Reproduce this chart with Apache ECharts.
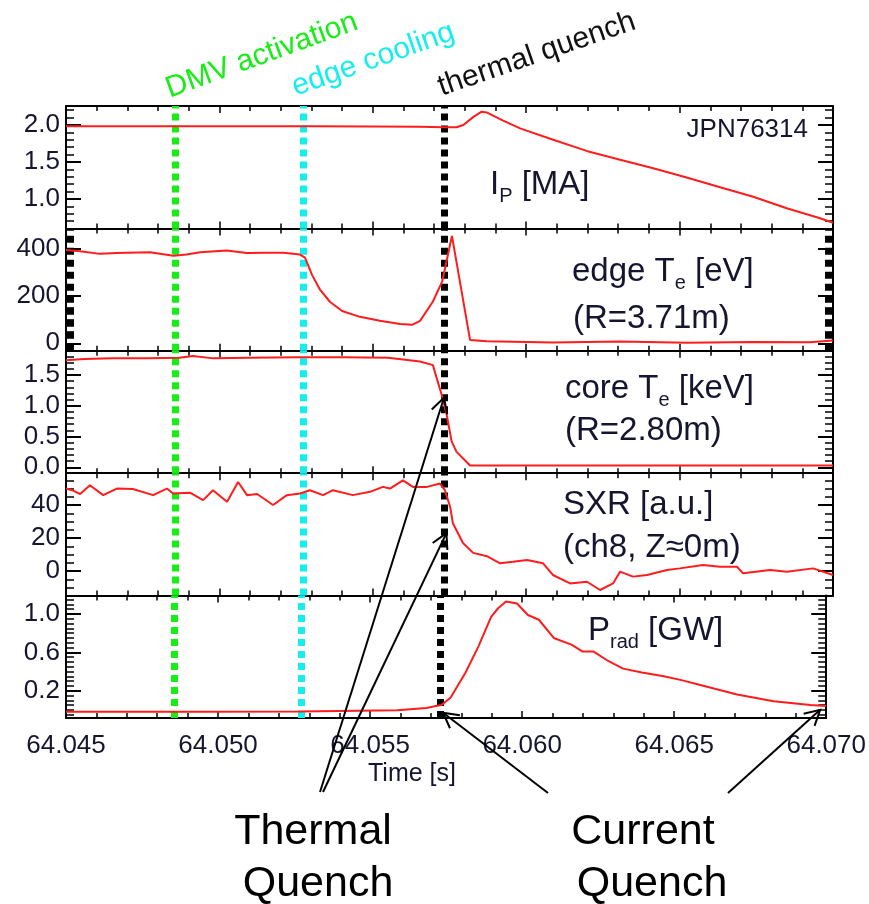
<!DOCTYPE html>
<html><head><meta charset="utf-8">
<script src="https://cdn.jsdelivr.net/npm/echarts@6/dist/echarts.min.js"></script>
<style>html,body{margin:0;padding:0;background:#fff}#c{width:869px;height:904px}</style>
</head><body><div id="c"></div>
<script>
// ---------------- data ----------------
const ipTime = [64.0450,64.0470,64.0490,64.0510,64.0530,64.0550,64.05654,64.05730,64.05773,64.05795,64.05828,64.05855,64.05871,64.05925,64.05980,64.06088,64.06197,64.06306,64.06414,64.06523,64.06632,64.06740,64.06849,64.06958,64.07000];
const ipVal  = [1.985,1.985,1.985,1.985,1.985,1.98,1.975,1.97,1.97,2.0,2.11,2.18,2.17,2.06,1.955,1.80,1.65,1.53,1.415,1.29,1.16,1.03,0.875,0.74,0.68];

const edgeTime = [64.04500,64.04546,64.04611,64.04665,64.04774,64.04850,64.04893,64.04937,64.05024,64.05089,64.05154,64.05208,64.05263,64.05279,64.05302,64.05328,64.05360,64.05400,64.05458,64.05523,64.05589,64.05628,64.05654,64.05696,64.05726,64.05758,64.05817,64.05872,64.06087,64.06306,64.06524,64.06739,64.06925,64.07000];
const edgeVal  = [395,390,379,383,386,371,376,386,393,383,384,384,376,363,290,227,176,137,112,95,82,78,95,177,261,455,14,8,3,7,2,5,4,12];

const coreTime = [64.04500,64.04560,64.04650,64.04770,64.04870,64.04914,64.04980,64.05100,64.05250,64.05400,64.05550,64.05654,64.05696,64.05710,64.05725,64.05741,64.05757,64.05773,64.05817,64.06000,64.06500,64.07000];
const coreVal  = [1.74,1.76,1.77,1.77,1.78,1.81,1.77,1.78,1.79,1.79,1.78,1.72,1.66,1.42,1.17,0.85,0.42,0.25,0.03,0.03,0.03,0.03];

const sxrTime = [64.04500,64.04520,64.04546,64.04578,64.04621,64.04666,64.04718,64.04784,64.04829,64.04849,64.04904,64.04947,64.04979,64.05025,64.05061,64.05090,64.05123,64.05175,64.05220,64.05263,64.05295,64.05338,64.05370,64.05435,64.05491,64.05533,64.05556,64.05598,64.05631,64.05677,64.05719,64.05735,64.05752,64.05761,64.05794,64.05827,64.05872,64.05915,64.05957,64.06003,64.06055,64.06087,64.06143,64.06198,64.06241,64.06283,64.06306,64.06348,64.06394,64.06459,64.06501,64.06576,64.06632,64.06687,64.06707,64.06795,64.06850,64.06935,64.07000];
const sxrVal  = [50,49,46.7,52,46,50,49.7,46,50,47,47.5,43,49,42,54,46,46.7,40,46,47,49,46,49,46,48,51,50,55,51,51,53,49,39,29,17,11,9,4.7,5.6,6.7,4.7,-2.4,-7.5,-6.5,-11.5,-7.5,-0.4,-3.4,-2.4,0.6,1.6,3.6,2.6,2.6,-1.4,0.6,-0.4,1.6,-2.4];

const pradTime = [64.04500,64.04937,64.05263,64.05589,64.05686,64.05716,64.05735,64.05765,64.05814,64.05856,64.05898,64.05921,64.05947,64.05983,64.06019,64.06055,64.06104,64.06162,64.06198,64.06234,64.06283,64.06332,64.06394,64.06466,64.06524,64.06586,64.06707,64.06827,64.06948,64.07000];
const pradVal  = [-0.02,-0.02,-0.018,-0.005,0.02,0.04,0.05,0.13,0.39,0.66,0.97,1.06,1.13,1.11,0.99,0.94,0.75,0.68,0.61,0.61,0.51,0.43,0.39,0.35,0.31,0.26,0.16,0.09,0.05,0.04];

// event markers (time, s)
const markerTimes = [64.04857, 64.05273, 64.05732];
const markerNames = ['DMV activation', 'edge cooling', 'thermal quench'];
const edgeBlockTimes = [64.04515, 64.06984];

// axis tick labels
const xRange = [64.045, 64.070];
const ipTicks = [1.0, 1.5, 2.0];
const edgeTicks = [0, 200, 400];
const coreTicks = [0.0, 0.5, 1.0, 1.5];
const sxrTicks = [0, 20, 40];
const pradTicks = [0.2, 0.6, 1.0];

// ---------------- layout / style ----------------
const RED = '#ff1c1c', GREEN = '#16ee16', CYAN = '#16eeee', BLACK = '#000';
const markerColors = [GREEN, CYAN, BLACK];
const FONT = '"Liberation Sans", Arial, sans-serif';
const left = 66, width = 767, gridH = 122.4;
const tops = [106, 228.4, 350.8, 473.2, 595.6];

function steps(a, b, s) { const r = []; for (let k = 0; a + k * s <= b + 1e-9; k++) r.push(+(a + k * s).toFixed(6)); return r; }

const panels = [
  { time: ipTime, val: ipVal, min: 0.603, max: 2.257, major: ipTicks, minor: steps(0.7, 2.2, 0.1), fmt: v => v.toFixed(1) },
  { time: edgeTime, val: edgeVal, min: -32, max: 487, major: edgeTicks, minor: steps(0, 450, 50), fmt: v => String(Math.round(v)) },
  { time: coreTime, val: coreVal, min: -0.096, max: 1.893, major: coreTicks, minor: steps(0, 1.8, 0.1), fmt: v => v.toFixed(1) },
  { time: sxrTime, val: sxrVal, min: -14.9, max: 59.3, major: sxrTicks, minor: steps(-10, 55, 5), fmt: v => String(Math.round(v)) },
  { time: pradTime, val: pradVal, min: -0.085, max: 1.192, major: pradTicks, minor: steps(-0.05, 1.15, 0.05), fmt: v => v.toFixed(1) }
];

const grids = [], xAxes = [], yAxes = [], series = [];
panels.forEach((p, i) => {
  grids.push({ left: left, width: width, top: tops[i], height: gridH, containLabel: false });
  const xBase = {
    gridIndex: i, type: 'value', min: xRange[0], max: xRange[1], interval: 0.005,
    axisLine: { show: true, onZero: false, lineStyle: { color: BLACK, width: 2 } },
    axisTick: { show: true, inside: true, length: 7, lineStyle: { color: BLACK, width: 1.5 } },
    minorTick: { show: true, splitNumber: 5, length: 5, lineStyle: { color: BLACK, width: 1.5 } },
    splitLine: { show: false }, minorSplitLine: { show: false }
  };
  xAxes.push(Object.assign({}, xBase, {
    position: 'bottom',
    axisLabel: { show: i === 4, formatter: v => v.toFixed(3), fontSize: 26, fontFamily: FONT, color: '#151530', margin: 15,
                 showMinLabel: true, showMaxLabel: true }
  }));
  xAxes.push(Object.assign({}, xBase, { position: 'top', axisLabel: { show: false } }));
  const yBase = { gridIndex: i, type: 'value', min: p.min, max: p.max, splitLine: { show: false } };
  const minorVals = p.minor.filter(v => !p.major.some(m => Math.abs(m - v) < 1e-9));
  yAxes.push(Object.assign({}, yBase, {
    position: 'left',
    axisLine: { show: true, onZero: false, lineStyle: { color: BLACK, width: 2 } },
    axisTick: { show: true, inside: true, length: 15, customValues: p.major, lineStyle: { color: BLACK, width: 2 } },
    axisLabel: { show: true, customValues: p.major, formatter: p.fmt, fontSize: 26, fontFamily: FONT, color: '#151530', margin: 6 }
  }));
  yAxes.push(Object.assign({}, yBase, {
    position: 'left', axisLine: { show: false },
    axisTick: { show: true, inside: true, length: 8, customValues: minorVals, lineStyle: { color: BLACK, width: 1.5 } },
    axisLabel: { show: false }
  }));
  yAxes.push(Object.assign({}, yBase, {
    position: 'right',
    axisLine: { show: true, onZero: false, lineStyle: { color: BLACK, width: 2 } },
    axisTick: { show: true, inside: true, length: 15, customValues: p.major, lineStyle: { color: BLACK, width: 2 } },
    axisLabel: { show: false }
  }));
  yAxes.push(Object.assign({}, yBase, {
    position: 'right', axisLine: { show: false },
    axisTick: { show: true, inside: true, length: 8, customValues: minorVals, lineStyle: { color: BLACK, width: 1.5 } },
    axisLabel: { show: false }
  }));

  const mlData = markerTimes.map((t, k) => ({ xAxis: t, lineStyle: { color: markerColors[k] } }));
  if (i === 1) edgeBlockTimes.forEach(t => mlData.push({ xAxis: t, lineStyle: { color: BLACK } }));
  series.push({
    type: 'line', xAxisIndex: 2 * i, yAxisIndex: 4 * i,
    data: p.time.map((t, k) => [t, p.val[k]]),
    showSymbol: false, symbol: 'none', z: 3,
    lineStyle: { color: RED, width: 2 },
    markLine: {
      silent: true, precision: 8, symbol: ['none', 'none'], label: { show: false }, z: 2,
      lineStyle: { type: [7, 5], width: 7, cap: 'butt' },
      data: mlData
    }
  });
});

const chart = echarts.init(document.getElementById('c'), null, { renderer: 'canvas' });
chart.setOption({
  animation: false, backgroundColor: '#fff',
  grid: grids, xAxis: xAxes, yAxis: yAxes, series: series
});

// ---------------- annotations ----------------
const ctx = document.createElement('canvas').getContext('2d');
function tw(text, size) { ctx.font = size + 'px ' + FONT; return ctx.measureText(text).width; }
const LBL = '#151530';
const g = [];
function txt(x, y, text, size, opt) {
  opt = opt || {};
  g.push({ type: 'text', x: x, y: y, rotation: opt.rot || 0, z: 100,
    style: { text: text, fontSize: size, fontFamily: FONT, fill: opt.fill || LBL,
             align: opt.align || 'left', verticalAlign: 'middle' } });
}
function parts(x, y, list) {
  let cx = x;
  list.forEach(p => { txt(cx, y + (p[2] || 0), p[0], p[1]); cx += tw(p[0], p[1]); });
}
const PS = 33, SS = 20;
txt(808, 130, 'JPN76314', 26, { align: 'right' });
parts(490, 185, [['I', PS], ['P', SS, 11], [' [MA]', PS]]);
parts(572, 272, [['edge T', PS], ['e', SS, 11], [' [eV]', PS]]);
parts(573, 319, [['(R=3.71m)', PS]]);
parts(565, 389, [['core T', PS], ['e', SS, 11], [' [keV]', PS]]);
parts(565, 431, [['(R=2.80m)', PS]]);
parts(563, 505, [['SXR [a.u.]', PS]]);
parts(563, 548, [['(ch8, Z\u22480m)', PS]]);
parts(588, 631, [['P', PS], ['rad', SS, 11], [' [GW]', PS]]);

const rotDeg = [20, 19.5, 19];
const rotAnchor = [[167, 90], [293, 88], [439, 88]];
markerNames.forEach((n, k) => {
  txt(rotAnchor[k][0], rotAnchor[k][1], n, 30, { rot: rotDeg[k] * Math.PI / 180, fill: markerColors[k] === BLACK ? '#111' : markerColors[k] });
});

txt(412, 774, 'Time [s]', 25, { align: 'center' });

txt(313, 832, 'Thermal', 43, { align: 'center', fill: '#000' });
txt(318, 884, 'Quench', 43, { align: 'center', fill: '#000' });
txt(643, 832, 'Current', 43, { align: 'center', fill: '#000' });
txt(652, 884, 'Quench', 43, { align: 'center', fill: '#000' });

function px(gi, t, v) { return chart.convertToPixel({ xAxisIndex: 2 * gi, yAxisIndex: 4 * gi }, [t, v]); }
const arrows = [
  { from: [320, 792], to: px(2, markerTimes[2], 1.13) },
  { from: [323, 792], to: px(3, 64.0574, 23) },
  { from: [548, 793], to: px(4, 64.0574, -0.03) },
  { from: [728, 793], to: px(4, 64.0698, 0.0) }
];
arrows.forEach(a => {
  const [x1, y1] = a.from, [x2, y2] = a.to;
  g.push({ type: 'line', z: 101, shape: { x1, y1, x2, y2 }, style: { stroke: '#000', lineWidth: 2 } });
  const ang = Math.atan2(y1 - y2, x1 - x2), L = 17, h = 0.5;
  const b1 = [x2 + L * Math.cos(ang + h), y2 + L * Math.sin(ang + h)];
  const b2 = [x2 + L * Math.cos(ang - h), y2 + L * Math.sin(ang - h)];
  g.push({ type: 'polyline', z: 101, shape: { points: [b1, [x2, y2], b2] }, style: { stroke: '#000', lineWidth: 2, fill: null } });
});
chart.setOption({ graphic: g });
</script>
</body></html>
